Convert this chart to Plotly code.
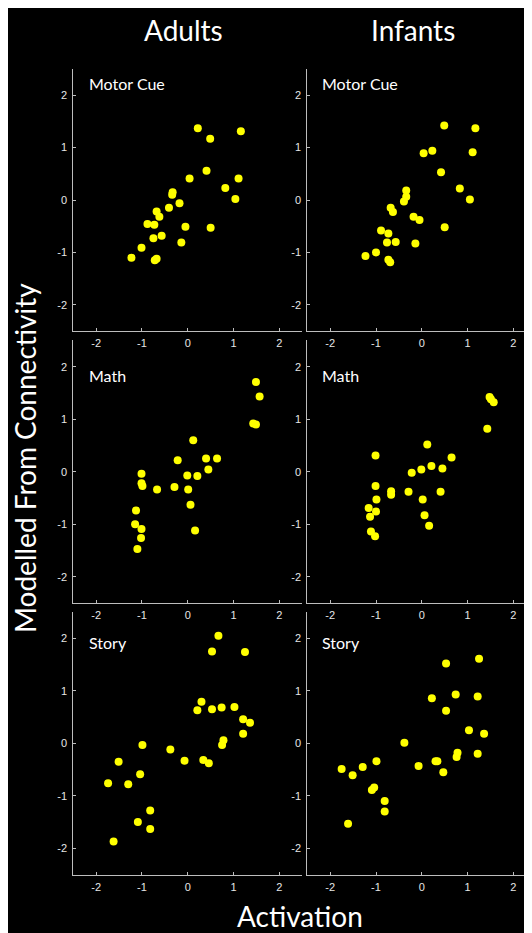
import plotly.graph_objects as go

# ---------------- data ----------------
groups = ["Adults", "Infants"]
tasks = ["Motor Cue", "Math", "Story"]

adults_motor_x = [-1.23, -1.01, -0.88, -0.73, -0.68, -0.62, -0.75, -0.57, -0.72, -0.68, -0.41, -0.33, -0.34,
                  -0.18, -0.05, -0.14, 0.04, 0.22, 0.49, 0.41, 0.50, 0.82, 1.04, 1.11, 1.16]
adults_motor_y = [-1.10, -0.91, -0.46, -0.47, -0.22, -0.32, -0.73, -0.68, -1.15, -1.12, -0.15, 0.15, 0.10,
                  -0.06, -0.51, -0.81, 0.41, 1.37, 1.17, 0.56, -0.53, 0.23, 0.02, 0.41, 1.31]

infants_motor_x = [-1.23, -1.00, -0.89, -0.73, -0.76, -0.57, -0.73, -0.69, -0.68, -0.63, -0.39, -0.34, -0.34,
                   -0.18, -0.05, -0.14, 0.04, 0.23, 0.49, 0.42, 0.50, 0.83, 1.05, 1.11, 1.17]
infants_motor_y = [-1.07, -1.00, -0.58, -0.64, -0.81, -0.80, -1.14, -1.19, -0.15, -0.23, -0.03, 0.06, 0.18,
                   -0.32, -0.38, -0.83, 0.89, 0.94, 1.42, 0.53, -0.52, 0.22, 0.01, 0.91, 1.37]

adults_math_x = [1.49, 1.57, 1.43, 1.49, 0.12, -0.22, 0.40, 0.64, 0.45, -0.01, 0.21, -0.29, 0.01, -0.67,
                 -1.01, -1.01, -0.99, 0.06, 0.16, -1.13, -1.15, -1.01, -1.02, -1.10]
adults_math_y = [1.71, 1.43, 0.92, 0.90, 0.60, 0.22, 0.25, 0.25, 0.04, -0.07, -0.08, -0.29, -0.34, -0.34,
                 -0.04, -0.22, -0.27, -0.63, -1.12, -0.74, -1.00, -1.09, -1.26, -1.47]

infants_math_x = [1.48, 1.51, 1.57, 1.43, 0.12, 0.65, 0.21, 0.45, -0.01, -0.22, -1.01, -1.01, -0.67, -0.67,
                  -0.29, 0.41, 0.02, -0.99, -1.00, -1.16, -1.13, 0.06, 0.16, -1.11, -1.02]
infants_math_y = [1.42, 1.38, 1.32, 0.82, 0.52, 0.27, 0.11, 0.06, 0.04, -0.02, 0.31, -0.27, -0.37, -0.44,
                  -0.38, -0.38, -0.53, -0.53, -0.76, -0.69, -0.86, -0.83, -1.03, -1.14, -1.23]

adults_story_x = [0.67, 0.53, 1.25, 0.30, 0.21, 0.53, 0.74, 1.02, 1.21, 1.36, 1.21, 0.78, 0.75, -0.99,
                  -0.38, -0.07, 0.34, 0.46, -1.51, -1.04, -1.74, -1.30, -0.82, -1.09, -0.82, -1.62]
adults_story_y = [2.05, 1.75, 1.74, 0.79, 0.63, 0.65, 0.68, 0.69, 0.46, 0.39, 0.18, 0.06, -0.03, -0.03,
                  -0.12, -0.33, -0.32, -0.38, -0.35, -0.59, -0.76, -0.78, -1.28, -1.50, -1.63, -1.87]

infants_story_x = [1.25, 0.53, 0.22, 0.74, 1.22, 0.53, 1.03, 1.36, -0.38, 0.78, 0.76, 1.22, -0.07, 0.30,
                   0.34, 0.47, -0.99, -1.29, -1.75, -1.51, -1.04, -1.09, -0.81, -0.81, -1.61]
infants_story_y = [1.61, 1.52, 0.86, 0.93, 0.89, 0.62, 0.25, 0.18, 0.01, -0.18, -0.26, -0.20, -0.43, -0.34,
                   -0.34, -0.55, -0.34, -0.45, -0.49, -0.61, -0.84, -0.89, -1.10, -1.30, -1.53]

tick_vals = [-2, -1, 0, 1, 2]
tick_text = ["-2", "-1", "0", "1", "2"]

panels = [
    (adults_motor_x, adults_motor_y), (infants_motor_x, infants_motor_y),
    (adults_math_x, adults_math_y), (infants_math_x, infants_math_y),
    (adults_story_x, adults_story_y), (infants_story_x, infants_story_y),
]

# ---------------- layout (pixels, in page coordinates; page body offset = 8px) ----------------
W, H = 532, 933
OX, OY = 8, 8
col_px = [(73.3, 302.2), (307.3, 527.0)]
col_xrange = [[-2.5, 2.5], [-2.5, 2.297]]
row_px = [(69.0, 331.0), (340.4, 603.0), (612.0, 874.6)]
label_frac = [0.943, 0.868, 0.882]


def fx(px):
    return (px - OX) / W


def fy(py):
    return 1 - (py - OY) / H


AXIS_COLOR = "#bdbdbd"
TICK_FONT = dict(family="Liberation Sans, Arial, sans-serif", size=11, color="#e6e6e6")
TITLE_FAMILY = "Lato, Open Sans, sans-serif"

fig = go.Figure()
layout = {}
annotations = []

for r in range(3):
    for c in range(2):
        i = r * 2 + c + 1
        xs, ys = panels[i - 1]
        xa = "x" if i == 1 else f"x{i}"
        ya = "y" if i == 1 else f"y{i}"
        fig.add_trace(go.Scatter(
            x=xs, y=ys, mode="markers", xaxis=xa, yaxis=ya,
            marker=dict(color="#ffff00", size=8, line=dict(width=0)),
            showlegend=False, hoverinfo="skip"))
        xk = "xaxis" if i == 1 else f"xaxis{i}"
        yk = "yaxis" if i == 1 else f"yaxis{i}"
        x0, x1 = col_px[c]
        y0, y1 = row_px[r]
        layout[xk] = dict(
            domain=[fx(x0), min(fx(x1), 1.0)], range=col_xrange[c], anchor=ya,
            showgrid=False, zeroline=False, showline=True, linecolor=AXIS_COLOR, linewidth=1,
            ticks="inside", ticklen=3, tickcolor=AXIS_COLOR, tickwidth=1,
            tickvals=tick_vals, ticktext=tick_text, tickfont=TICK_FONT, ticklabelstandoff=2)
        layout[yk] = dict(
            domain=[fy(y1), fy(y0)], range=[-2.5, 2.5], anchor=xa,
            showgrid=False, zeroline=False, showline=True, linecolor=AXIS_COLOR, linewidth=1,
            ticks="inside", ticklen=3, tickcolor=AXIS_COLOR, tickwidth=1,
            tickvals=tick_vals, ticktext=tick_text, tickfont=TICK_FONT, ticklabelstandoff=3)
        annotations.append(dict(
            text=tasks[r], xref=f"{xa} domain", yref=f"{ya} domain",
            x=0.058, y=label_frac[r], xanchor="left", yanchor="middle", showarrow=False,
            font=dict(family=TITLE_FAMILY, size=16, color="white")))

# column titles
for c, g in enumerate(groups):
    cx = [183, 413][c]
    annotations.append(dict(text=g, xref="paper", yref="paper", x=fx(cx), y=fy(30),
                            xanchor="center", yanchor="middle", showarrow=False,
                            font=dict(family=TITLE_FAMILY, size=28, color="white")))

annotations.append(dict(text="Activation", xref="paper", yref="paper", x=fx(300), y=fy(916),
                        xanchor="center", yanchor="middle", showarrow=False,
                        font=dict(family=TITLE_FAMILY, size=28, color="white")))
annotations.append(dict(text="Modelled From Connectivity", xref="paper", yref="paper", x=fx(25),
                        y=fy(458), xanchor="center", yanchor="middle", textangle=-90,
                        showarrow=False, font=dict(family=TITLE_FAMILY, size=28, color="white")))

fig.update_layout(
    width=W, height=H, margin=dict(l=0, r=0, t=0, b=0, autoexpand=False),
    paper_bgcolor="black", plot_bgcolor="black",
    annotations=annotations,
    **layout)

fig.write_html("out.html")
